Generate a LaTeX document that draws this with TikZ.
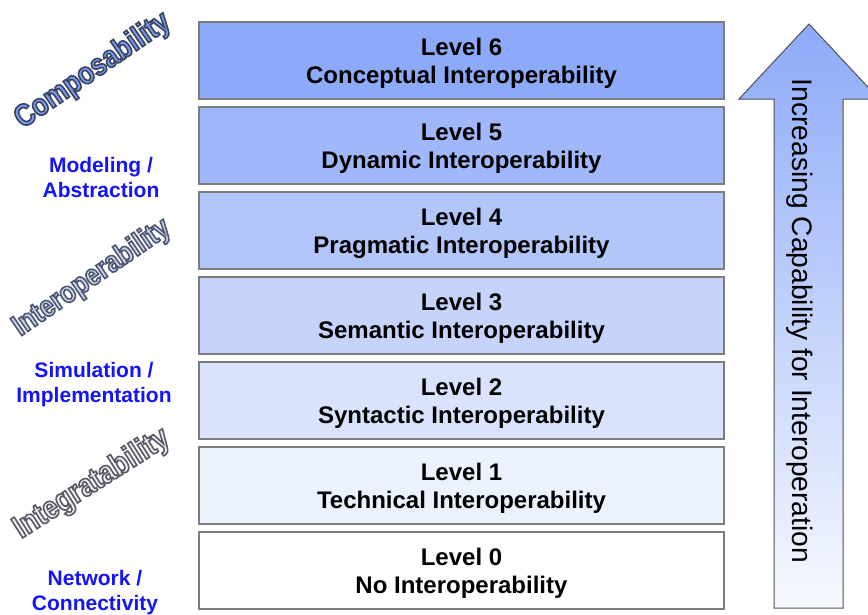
\documentclass[tikz,border=0pt]{standalone}
\usepackage{fontspec}
\setmainfont{Liberation Sans}
\newfontfamily\condfont[FakeStretch=0.85]{Liberation Sans}
\definecolor{lvl}{RGB}{141,170,248}
\definecolor{boxborder}{RGB}{125,125,125}
\definecolor{arrowborder}{RGB}{80,80,85}
\definecolor{labelblue}{RGB}{20,20,250}
\definecolor{compfill}{RGB}{122,155,242}
\definecolor{interfill}{RGB}{201,213,243}
\definecolor{integfill}{RGB}{238,240,246}
% outlined text: #1 = stroke colour as "r g b" (0..1), #2 = text
\newcommand{\outlined}[2]{\special{pdf:literal direct q 2 Tr 1.6 w #1 RG}#2\special{pdf:literal direct Q}}
\newcommand{\lvtop}{\rule{0pt}{22.5pt}}
\begin{document}
\begin{tikzpicture}[x=1pt,y=-1pt,
  levelbox/.style={draw=boxborder, line width=1.3pt, minimum width=525pt,
    minimum height=77pt, inner sep=0pt, align=center,
    font=\fontsize{24}{28}\selectfont\bfseries, text=black},
  sidelabel/.style={align=center, text=labelblue,
    font=\fontsize{21}{25}\selectfont\bfseries},
  slanted/.style={rotate=34.5, inner sep=0pt},
  captext/.style={rotate=-90, anchor=base, font=\fontsize{28.2}{30}\selectfont, text=black}]
\useasboundingbox (0,0) rectangle (868,614);

% levels
\node[levelbox, fill=lvl]           (L6) at (461.5,60.5)  {\lvtop Level 6\\Conceptual Interoperability};
\node[levelbox, fill=lvl!83!white]  (L5) at (461.5,145.5) {\lvtop Level 5\\Dynamic Interoperability};
\node[levelbox, fill=lvl!67!white]  (L4) at (461.5,230.5) {\lvtop Level 4\\Pragmatic Interoperability};
\node[levelbox, fill=lvl!50!white]  (L3) at (461.5,315.5) {\lvtop Level 3\\Semantic Interoperability};
\node[levelbox, fill=lvl!33!white]  (L2) at (461.5,400.5) {\lvtop Level 2\\Syntactic Interoperability};
\node[levelbox, fill=lvl!17!white]  (L1) at (461.5,485.5) {\lvtop Level 1\\Technical Interoperability};
\node[levelbox, fill=white]         (L0) at (461.5,570.5) {\lvtop Level 0\\No Interoperability};

% big arrow
\draw[draw=arrowborder, line width=1pt, top color=lvl, bottom color=lvl!7!white]
  (809,24) -- (879,99) -- (843,99) -- (843,608) -- (774,608) -- (774,99) -- (739,99) -- cycle;
\node[captext] (cap) at (792,321) {Increasing Capability for Interoperation};

% side labels
\node[sidelabel] (model) at (101,177) {Modeling /\\Abstraction};
\node[sidelabel] (sim)   at (94,385)  {Simulation /\\Implementation};
\node[sidelabel] (net)   at (95,593)  {Network /\\Connectivity};

% slanted outlined labels
\node[slanted, text=compfill, font=\condfont\bfseries\fontsize{31}{33}\selectfont]
  (comp) at (93,71) {\outlined{0.23 0.27 0.38}{Composability}};
\node[slanted, text=interfill, font=\condfont\bfseries\fontsize{30}{33}\selectfont]
  (inter) at (92,278) {\outlined{0.31 0.34 0.44}{Interoperability}};
\node[slanted, rotate=-2, text=integfill, font=\condfont\bfseries\fontsize{32}{34}\selectfont]
  (integ) at (92,484) {\outlined{0.35 0.35 0.40}{Integratability}};
\end{tikzpicture}
\end{document}
